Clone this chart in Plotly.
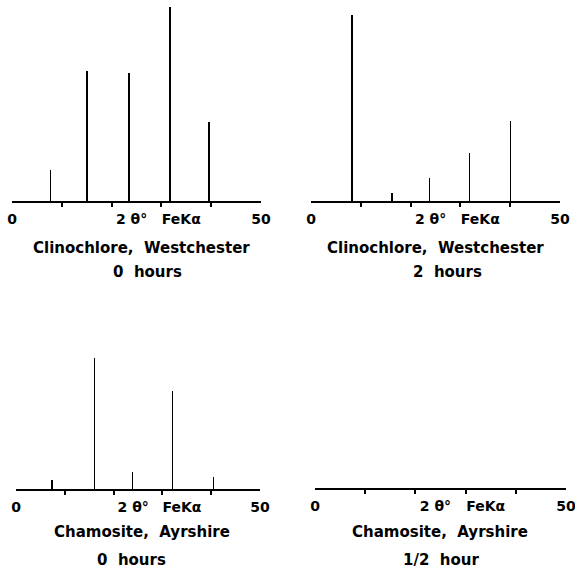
import plotly.graph_objects as go

# ---- data (2θ positions in degrees, relative intensities) ----
clino0_pos = [7.7, 15.1, 23.5, 31.7, 39.6]
clino0_int = [31, 130, 128, 194, 79]

clino2_pos = [8.2, 16.3, 23.8, 31.8, 40.1]
clino2_int = [186, 8, 23, 48, 80]

cham0_pos = [7.4, 16.1, 23.9, 32.1, 40.5]
cham0_int = [9, 131, 17, 98, 12]

cham_half_pos = []
cham_half_int = []

captions = [
    ("Clinochlore,  Westchester", "0  hours"),
    ("Clinochlore,  Westchester", "2  hours"),
    ("Chamosite,  Ayrshire", "0  hours"),
    ("Chamosite,  Ayrshire", "1/2  hour"),
]
tick_vals = [0, 24, 34, 50]
tick_text = ["0", "2 θ°", "FeKα", "50"]
minor_ticks = [10, 20, 30, 40]

W, H = 575, 570
TICKFONT = dict(family="DejaVu Sans", size=14, color="black", weight="bold")
CAPFONT = dict(family="DejaVu Sans", size=15, color="black", weight="bold")

# panel layout in reference-pixels: (x0, x1, baseline_y, top_y)
panels = [
    (12, 261, 201, 1),
    (311, 560, 201, 1),
    (16, 260, 489, 289),
    (315, 566, 488, 288),
]
series = [
    (clino0_pos, clino0_int),
    (clino2_pos, clino2_int),
    (cham0_pos, cham0_int),
    (cham_half_pos, cham_half_int),
]
caption_y = [(248, 272), (248, 272), (532, 560), (532, 560)]
caption_x = [(141, 147), (435, 447), (142, 131), (440, 441)]


def px(v):
    return v / W


def py(v):
    return 1 - v / H


fig = go.Figure()
for i, ((x0, x1, yb, yt), (pos, inten)) in enumerate(zip(panels, series)):
    n = "" if i == 0 else str(i + 1)
    fig.add_trace(go.Bar(x=pos, y=inten, width=0.3, cliponaxis=False,
                         marker=dict(color="black", line=dict(width=0)),
                         xaxis="x" + n, yaxis="y" + n, showlegend=False))
    fig.layout["xaxis" + n] = dict(
        domain=[px(x0), px(x1)], range=[0, 50], anchor="y" + n,
        showline=True, linecolor="black", linewidth=2,
        showgrid=False, zeroline=False, automargin=False,
        tickmode="array", tickvals=tick_vals, ticktext=tick_text,
        ticks="", tickfont=TICKFONT, ticklabelstandoff=4,
        ticklabeloverflow="allow",
        minor=dict(tickmode="array", tickvals=minor_ticks, ticks="outside",
                   ticklen=4, tickwidth=2, tickcolor="black", showgrid=False),
    )
    fig.layout["yaxis" + n] = dict(
        domain=[py(yb), py(yt)], range=[0, yb - yt], anchor="x" + n,
        visible=False, fixedrange=True, automargin=False,
    )
    for txt, cx, cy in zip(captions[i], caption_x[i], caption_y[i]):
        fig.add_annotation(text=txt, x=px(cx), y=py(cy), xref="paper", yref="paper",
                           xanchor="center", yanchor="middle", showarrow=False, font=CAPFONT)

fig.update_layout(width=W, height=H, margin=dict(l=0, r=0, t=0, b=0, autoexpand=False),
                  paper_bgcolor="white", plot_bgcolor="white", bargap=0, hovermode=False)
fig.write_html("out.html", config={"displayModeBar": False, "staticPlot": True},
               post_script="document.body.style.margin='0';document.body.style.overflow='hidden';")
